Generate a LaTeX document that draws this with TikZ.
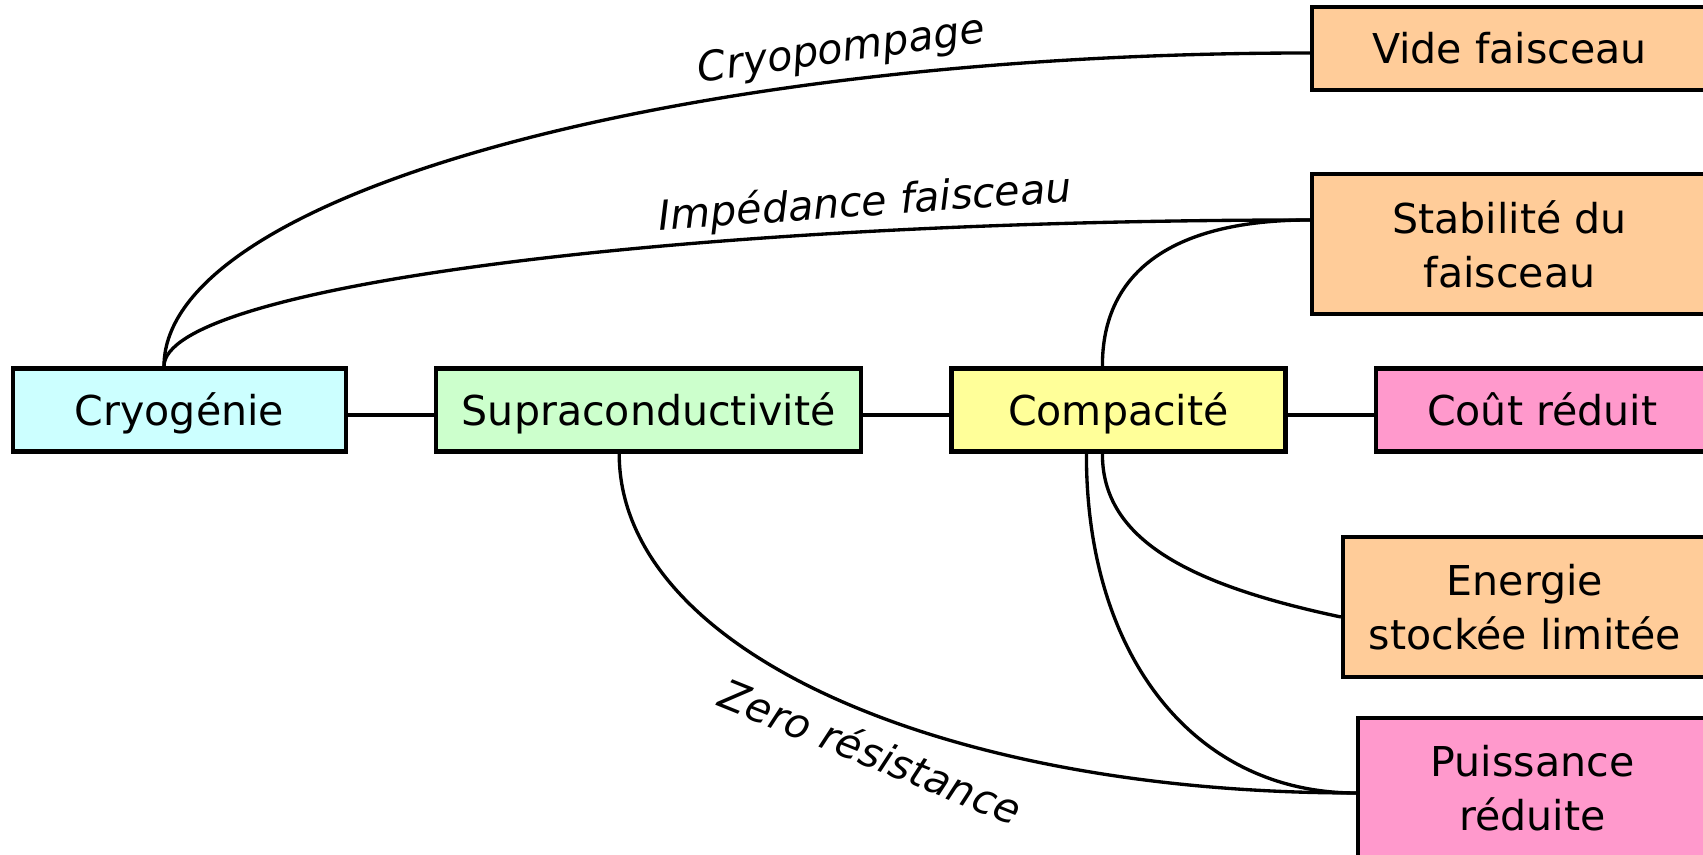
\documentclass[tikz,border=0pt]{standalone}
\usepackage{fontspec}
\setmainfont{DejaVu Sans}
\usetikzlibrary{positioning}
\definecolor{bleuclair}{HTML}{CCFFFF}
\definecolor{vertclair}{HTML}{CCFFCC}
\definecolor{jaune}{HTML}{FFFF99}
\definecolor{rose}{HTML}{FF99CC}
\definecolor{peche}{HTML}{FFCC99}

\begin{document}
\begin{tikzpicture}[
    x=0.1mm, y=-0.1mm, node distance=8.6mm, line width=0.95pt,
    every node/.style={font=\fontsize{11.7}{15.4}\selectfont},
    box/.style={draw, line width=1.2pt, minimum height=8.3mm, text height=8.8pt, text depth=0pt},
    box2/.style={draw, line width=1.2pt, minimum height=14mm, align=center},
    lien/.style={font=\fontsize{11.7}{15.4}\selectfont\itshape, anchor=base}
]
\useasboundingbox (0,0) rectangle (1703,855);

\node[box, fill=bleuclair, minimum width=33.3mm] (cryo) at (179.5,410) {Cryogénie};
\node[box, fill=vertclair, minimum width=42.5mm, right=of cryo] (supra) {Supraconductivité};
\node[box, fill=jaune, minimum width=33.4mm, right=of supra] (comp) {Compacité};
\node[box, fill=rose, minimum width=33.3mm, right=of comp] (cout) {Coût réduit};
\node[box, fill=peche, minimum width=39.5mm] (vide) at (1509.5,48.5) {Vide faisceau};
\node[box2, fill=peche, minimum width=39.5mm] (stab) at (1509.5,244) {Stabilité du\\faisceau};
\node[box2, fill=peche, minimum width=36.4mm] (energie) at (1525,607) {Energie\\stockée limitée};
\node[box2, fill=rose, minimum width=34.9mm] (puiss) at (1532.5,788) {Puissance\\réduite};

\path ([yshift=-0.5mm]cryo.east) edge ([yshift=-0.5mm]supra.west)
      ([yshift=-0.5mm]supra.east) edge ([yshift=-0.5mm]comp.west)
      ([yshift=-0.5mm]comp.east) edge ([yshift=-0.5mm]cout.west);

% liens courbes
\draw ([xshift=-1.55mm]cryo.north) .. controls (164,195) and (678,53) .. ([yshift=-0.45mm]vide.west);
\draw ([xshift=-1.55mm]cryo.north) .. controls (164,287) and (678,220) .. ([yshift=2.4mm]stab.west);
\draw ([xshift=-1.6mm]comp.north) .. controls (1102,270) and (1175,220) .. ([yshift=2.4mm]stab.west);
\draw ([xshift=-1.6mm]comp.south) .. controls (1102,540) and (1190,585) .. ([yshift=-1mm]energie.west);
\draw ([xshift=-3.2mm]comp.south) .. controls (1086,657) and (1195,793) .. ([yshift=-0.5mm]puiss.west);
\draw ([xshift=-2.95mm]supra.south) .. controls (619,650) and (940,793) .. ([yshift=-0.5mm]puiss.west);

\node[lien, rotate=8] (lcryo) at (843,62) {Cryopompage};
\node[lien, rotate=4] (limp) at (866,216) {Impédance faisceau};
\node[lien, rotate=-22] (lzero) at (865,766) {Zero résistance};
\end{tikzpicture}
\end{document}
